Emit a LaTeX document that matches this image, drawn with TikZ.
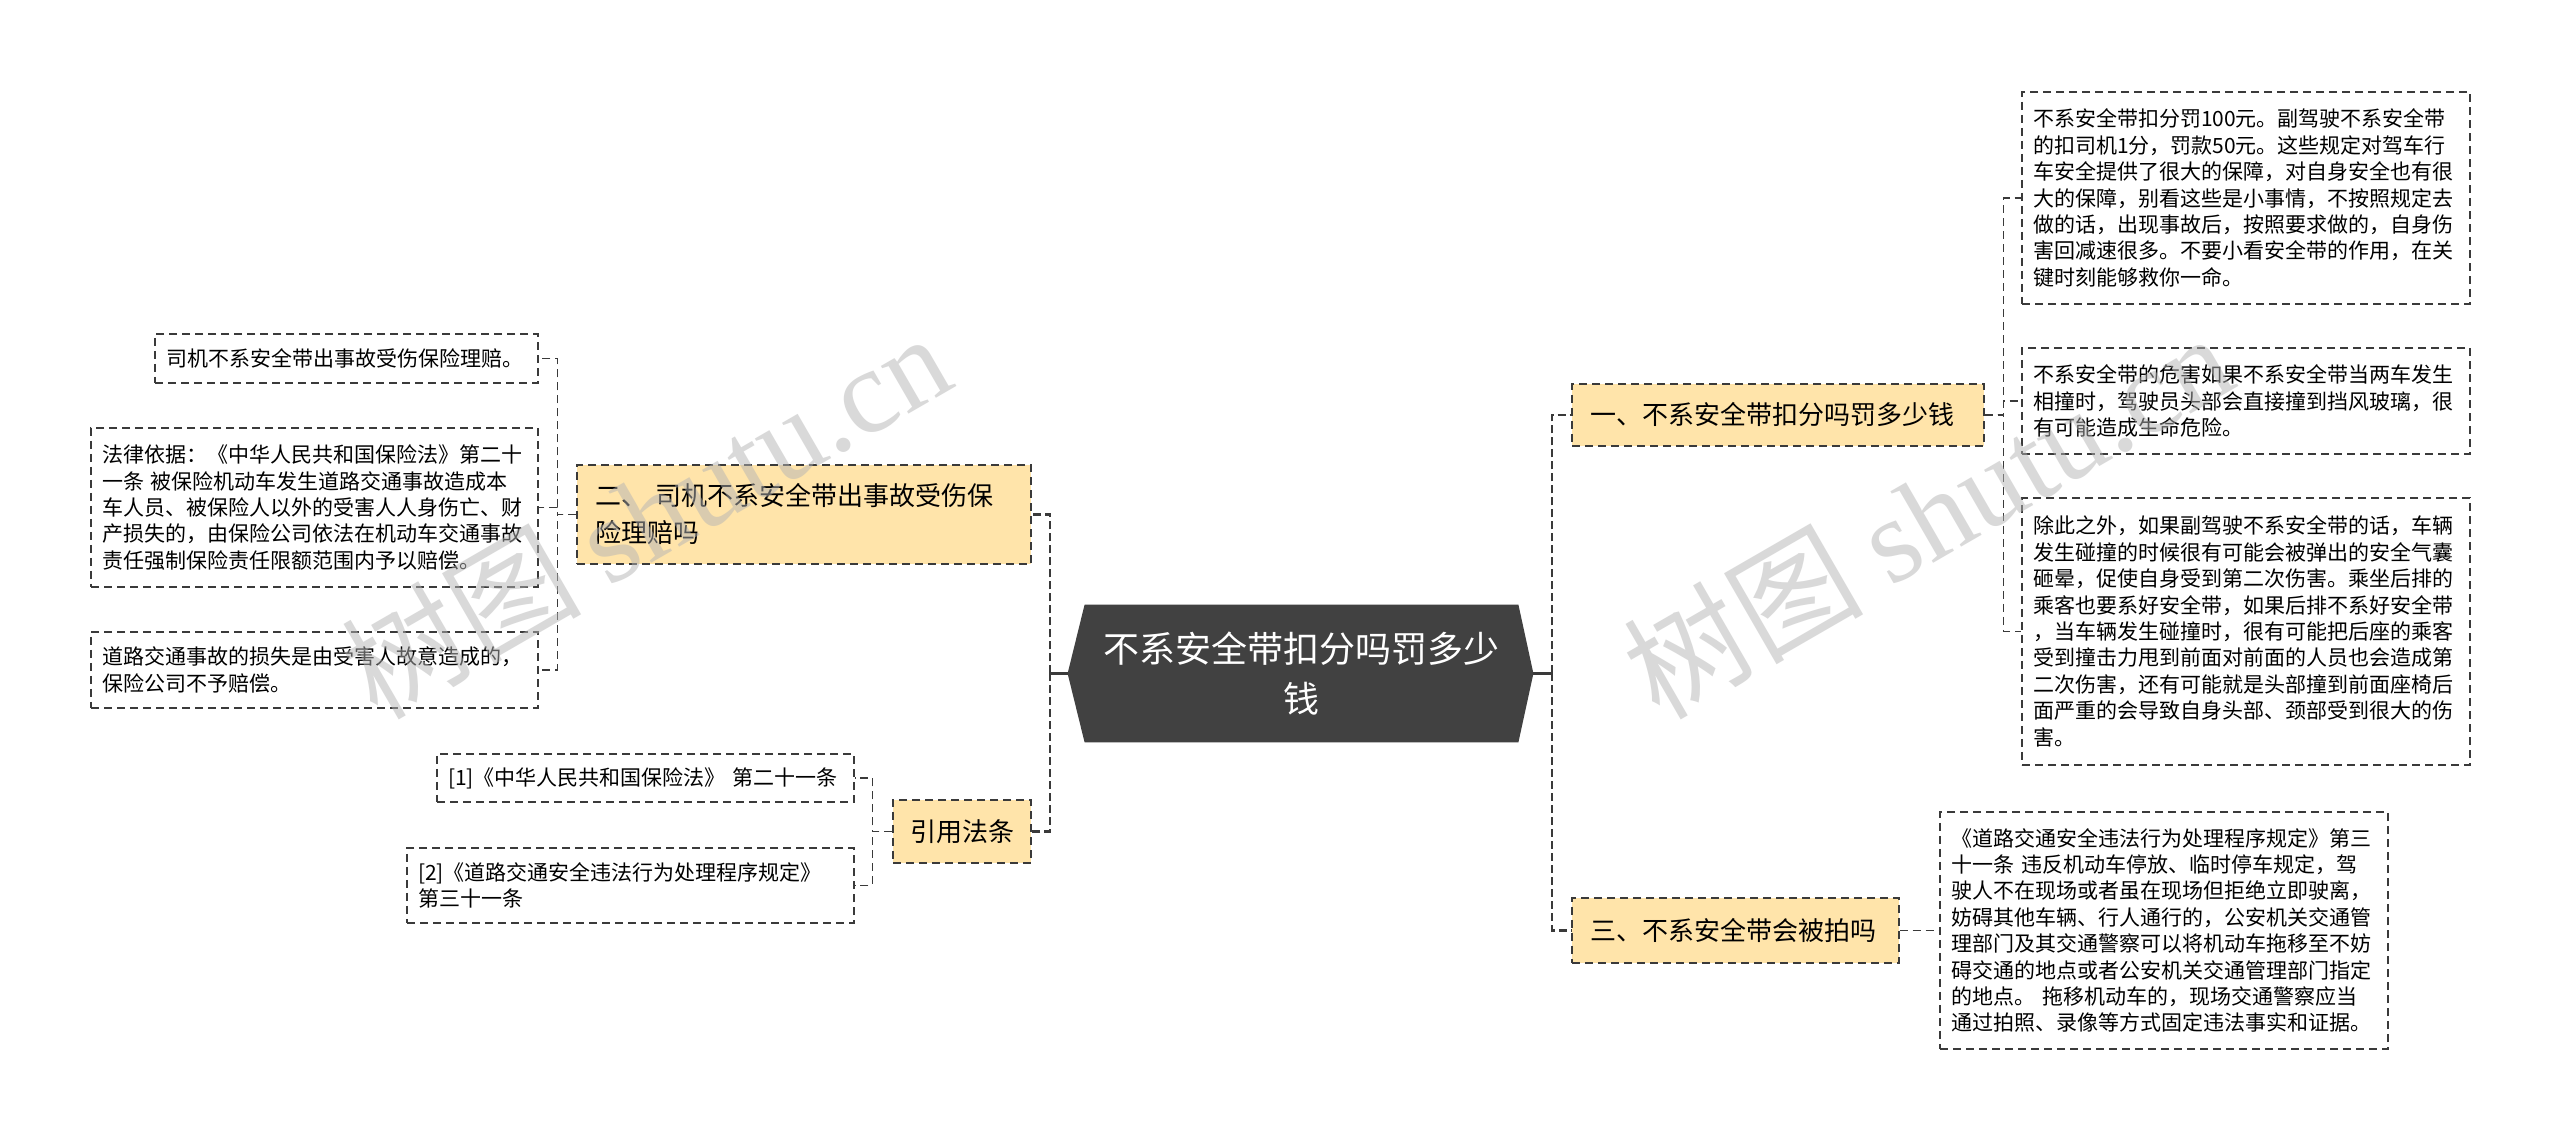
\documentclass[tikz,border=0pt]{standalone}
\usepackage{fontspec}
\setmainfont{Noto Sans CJK SC}
\newfontfamily\wmserif{Liberation Serif}
\usetikzlibrary{calc,backgrounds}
\definecolor{cHub}{HTML}{414141}
\definecolor{cTopic}{HTML}{FFE4AA}
\definecolor{cLine}{HTML}{3A3A3A}
\definecolor{cMark}{HTML}{B4B4B4}
\tikzset{
  box/.style   = {draw=cLine, line width=0.7pt, dash pattern=on 4pt off 2.5pt,
                  align=left, inner ysep=0pt},
  hub/.style   = {text=white, align=center, inner sep=0pt, minimum width=216.5pt,
                  minimum height=68.5pt, font=\fontsize{18pt}{25pt}\selectfont},
  topic/.style = {box, fill=cTopic, inner xsep=9pt, font=\fontsize{13pt}{18.5pt}\selectfont},
  leaf/.style  = {box, fill=white, inner xsep=5.5pt, font=\fontsize{10.5pt}{13.2pt}\selectfont},
  stem/.style  = {draw=cLine, line width=1.2pt},
  trunk/.style = {draw=cLine, line width=1.2pt, dash pattern=on 4pt off 2pt},
  twig/.style  = {draw=cLine, line width=0.7pt, dash pattern=on 4pt off 2.5pt},
  wmark/.style = {text=cMark, opacity=0.5, inner sep=0pt, font=\fontsize{60pt}{60pt}\selectfont},
}

\begin{document}
\begin{tikzpicture}[x=0.5pt, y=-0.5pt]
  \useasboundingbox (0,0) rectangle (2560,1143);
  \begin{scope}[on background layer]
    \fill[white] (0,0) rectangle (2560,1143);
  \end{scope}
  % central topic
  \node[hub] (C) at (1301.5,673.5) {不系安全带扣分吗罚多少\\钱};
  \coordinate (Cw) at ($(C.west)+(-17,0)$);
  \coordinate (Ce) at ($(C.east)+(15,0)$);
  \begin{scope}[on background layer]
    \fill[cHub] (C.north west) -- (C.north east) -- (Ce) -- (C.south east)
      -- (C.south west) -- (Cw) -- cycle;
  \end{scope}
  % first level
  \node[topic, text width=188pt, minimum height=31pt] (b1) at (1778,415)
    {一、不系安全带扣分吗罚多少钱};
  \node[topic, text width=145.5pt, minimum height=32.5pt] (b3) at (1735.5,930.5)
    {三、不系安全带会被拍吗};
  \node[topic, text width=209pt, minimum height=49.5pt] (b2) at (804,514.5)
    {二、 司机不系安全带出事故受伤保\\险理赔吗};
  \node[topic, text width=52pt, inner xsep=8.5pt, minimum height=31.5pt] (b4) at (962,831.5)
    {引用法条};
  % right leaves
  \node[leaf, text width=213pt, minimum height=106pt] (r1) at (2246,198)
    {不系安全带扣分罚100元。副驾驶不系安全带\\的扣司机1分，罚款50元。这些规定对驾车行\\
     车安全提供了很大的保障，对自身安全也有很\\大的保障，别看这些是小事情，不按照规定去\\
     做的话，出现事故后，按照要求做的，自身伤\\害回减速很多。不要小看安全带的作用，在关\\
     键时刻能够救你一命。};
  \node[leaf, text width=213pt, minimum height=53pt] (r2) at (2246,401)
    {不系安全带的危害如果不系安全带当两车发生\\相撞时，驾驶员头部会直接撞到挡风玻璃，很\\
     有可能造成生命危险。};
  \node[leaf, text width=213pt, minimum height=133.5pt] (r3) at (2246,631.5)
    {除此之外，如果副驾驶不系安全带的话，车辆\\发生碰撞的时候很有可能会被弹出的安全气囊\\
     砸晕，促使自身受到第二次伤害。乘坐后排的\\乘客也要系好安全带，如果后排不系好安全带\\
     ，当车辆发生碰撞时，很有可能把后座的乘客\\受到撞击力甩到前面对前面的人员也会造成第\\
     二次伤害，还有可能就是头部撞到前面座椅后\\面严重的会导致自身头部、颈部受到很大的伤\\
     害。};
  \node[leaf, text width=213pt, minimum height=118.5pt] (r4) at (2164,930.5)
    {《道路交通安全违法行为处理程序规定》第三\\十一条 违反机动车停放、临时停车规定，驾\\
     驶人不在现场或者虽在现场但拒绝立即驶离，\\妨碍其他车辆、行人通行的，公安机关交通管\\
     理部门及其交通警察可以将机动车拖移至不妨\\碍交通的地点或者公安机关交通管理部门指定\\
     的地点。 拖移机动车的，现场交通警察应当\\通过拍照、录像等方式固定违法事实和证据。};
  % left leaves
  \node[leaf, text width=180.5pt, minimum height=24.5pt] (l1) at (346.5,358.5)
    {司机不系安全带出事故受伤保险理赔。};
  \node[leaf, text width=212.5pt, minimum height=79.5pt] (l2) at (314.5,507.5)
    {法律依据：《中华人民共和国保险法》第二十\\一条 被保险机动车发生道路交通事故造成本\\
     车人员、被保险人以外的受害人人身伤亡、财\\产损失的，由保险公司依法在机动车交通事故\\
     责任强制保险责任限额范围内予以赔偿。};
  \node[leaf, text width=212.5pt, minimum height=38pt] (l3) at (314.5,670)
    {道路交通事故的损失是由受害人故意造成的，\\保险公司不予赔偿。};
  \node[leaf, text width=197.5pt, minimum height=24pt] (c1) at (645.5,778)
    {[1]《中华人民共和国保险法》 第二十一条};
  \node[leaf, text width=212.5pt, minimum height=37.5pt] (c2) at (630.5,885.5)
    {[2]《道路交通安全违法行为处理程序规定》\\第三十一条};
  % trunks from the centre
  \coordinate (lbus) at (1050,673.5);
  \coordinate (rbus) at (1552,673.5);
  \draw[stem] (Cw) -- (lbus);
  \draw[stem] (Ce) -- (rbus);
  \foreach \n in {b2,b4} \draw[trunk] (lbus) |- (\n.east);
  \foreach \n in {b1,b3} \draw[trunk] (rbus) |- (\n.west);
  % twigs to the leaves
  \foreach \n in {r1,r2,r3} \draw[twig] (b1.east) -- ++(19,0) |- (\n.west);
  \draw[twig] (b3.east) -- (r4.west);
  \foreach \n in {l1,l2,l3} \draw[twig] (b2.west) -- ++(-19,0) |- (\n.east);
  \foreach \n in {c1,c2} \draw[twig] (b4.west) -- ++(-20,0) |- (\n.east);
  % watermarks
  \node[wmark, rotate=30] (wm1) at (645,514) {树图 {\wmserif shutu.cn}};
  \node[wmark, rotate=30] (wm2) at (1927,514) {树图 {\wmserif shutu.cn}};
\end{tikzpicture}
\end{document}
